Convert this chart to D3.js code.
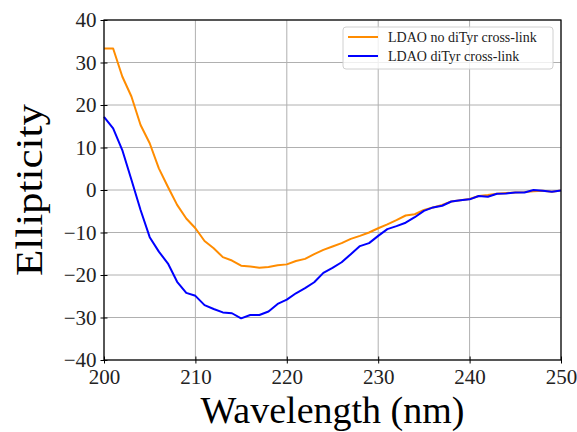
<!DOCTYPE html>
<html>
<head>
<meta charset="utf-8">
<script src="https://cdn.jsdelivr.net/npm/d3@7"></script>
<style>
  html, body { margin: 0; padding: 0; background: #fff; }
  svg { display: block; }
  svg text { font-family: "Liberation Serif", "DejaVu Serif", serif; }
</style>
</head>
<body>
<svg id="chart" width="577" height="432"></svg>
<script>
// CD spectra: wavelength (nm) vs ellipticity
const wavelengths = d3.range(200, 251);
const noCrossLink = [
  33.3, 33.3, 26.7, 22.0, 15.3, 11.0, 5.1, 0.7, -3.5, -6.7,
  -9.0, -12.0, -13.7, -15.8, -16.6, -17.8, -18.0, -18.3, -18.1, -17.7,
  -17.5, -16.7, -16.2, -15.1, -14.1, -13.3, -12.5, -11.5, -10.8, -10.0,
  -9.0, -8.1, -7.1, -6.0, -5.7, -4.7, -4.1, -3.5, -2.7, -2.4,
  -2.1, -1.4, -1.2, -0.9, -0.7, -0.6, -0.5, -0.3, -0.2, -0.4,
  -0.1
];
const diTyrCrossLink = [
  17.2, 14.5, 9.4, 2.4, -4.7, -11.1, -14.5, -17.3, -21.6, -24.2,
  -24.9, -27.1, -28.0, -28.8, -29.0, -30.2, -29.4, -29.4, -28.6, -26.8,
  -25.8, -24.3, -23.1, -21.7, -19.5, -18.3, -17.0, -15.1, -13.2, -12.5,
  -10.8, -9.2, -8.5, -7.7, -6.4, -4.9, -4.1, -3.7, -2.7, -2.4,
  -2.2, -1.4, -1.6, -0.9, -0.8, -0.6, -0.6, 0.0, -0.2, -0.4,
  -0.1
];
const seriesNames = ["LDAO no diTyr cross-link", "LDAO diTyr cross-link"];
const seriesColors = ["#ff8c00", "#0000ff"];
const xTicks = [200, 210, 220, 230, 240, 250];
const yTicks = [-40, -30, -20, -10, 0, 10, 20, 30, 40];

const font = '"Liberation Serif", "DejaVu Serif", serif';
const margin = { left: 104, right: 16, top: 20, bottom: 72 };
const W = 577, H = 432;
const iw = W - margin.left - margin.right;
const ih = H - margin.top - margin.bottom;

const svg = d3.select("#chart");
const g = svg.append("g").attr("transform", `translate(${margin.left},${margin.top})`);

const x = d3.scaleLinear().domain([200, 250]).range([0, iw]);
const y = d3.scaleLinear().domain([-40, 40]).range([ih, 0]);

// grid
g.append("g").selectAll("line").data(xTicks).join("line")
  .attr("x1", d => x(d)).attr("x2", d => x(d))
  .attr("y1", 0).attr("y2", ih)
  .attr("stroke", "#b0b0b0").attr("stroke-width", 1);
g.append("g").selectAll("line").data(yTicks).join("line")
  .attr("x1", 0).attr("x2", iw)
  .attr("y1", d => y(d)).attr("y2", d => y(d))
  .attr("stroke", "#b0b0b0").attr("stroke-width", 1);

// series
const line = d3.line().x((d, i) => x(wavelengths[i])).y(d => y(d));
[noCrossLink, diTyrCrossLink].forEach((vals, k) => {
  g.append("path").datum(vals)
    .attr("d", line)
    .attr("fill", "none")
    .attr("stroke", seriesColors[k])
    .attr("stroke-width", 2)
    .attr("stroke-linejoin", "round");
});

// axes
const fmt = d3.format("d");
const xAxis = g.append("g").attr("transform", `translate(0,${ih})`)
  .call(d3.axisBottom(x).tickValues(xTicks).tickFormat(fmt).tickSizeInner(3.5).tickSizeOuter(0).tickPadding(4));
const yAxis = g.append("g")
  .call(d3.axisLeft(y).tickValues(yTicks).tickFormat(fmt).tickSizeInner(3.5).tickSizeOuter(0).tickPadding(4));
[xAxis, yAxis].forEach(a => {
  a.attr("font-family", null).attr("font-size", null);
  a.select(".domain").remove();
  a.selectAll(".tick line").attr("stroke", "#000").attr("stroke-width", 1);
  a.selectAll("text").style("font-family", font).style("font-size", "21px").attr("fill", "#222");
});
// inward part of the ticks
xAxis.selectAll(".tick").append("line").attr("y1", 0).attr("y2", -3.5).attr("stroke", "#000");
yAxis.selectAll(".tick").append("line").attr("x1", 0).attr("x2", 3.5).attr("stroke", "#000");
xAxis.selectAll("text").attr("dy", "0.78em");

// frame
g.append("rect").attr("x", 0).attr("y", 0).attr("width", iw).attr("height", ih)
  .attr("fill", "none").attr("stroke", "#000").attr("stroke-width", 1.2);

// axis titles
svg.append("text")
  .attr("x", margin.left + iw / 2).attr("y", 423)
  .attr("text-anchor", "middle")
  .style("font-family", font).style("font-size", "37px")
  .attr("textLength", 264).attr("lengthAdjust", "spacingAndGlyphs")
  .text("Wavelength (nm)");
svg.append("text")
  .attr("transform", `translate(42,${margin.top + ih / 2}) rotate(-90)`)
  .attr("text-anchor", "middle")
  .style("font-family", font).style("font-size", "37px")
  .attr("textLength", 172).attr("lengthAdjust", "spacingAndGlyphs")
  .text("Ellipticity");

// legend
const lg = svg.append("g").attr("transform", "translate(343,27)");
lg.append("rect").attr("width", 210).attr("height", 42).attr("rx", 3)
  .attr("fill", "#fff").attr("fill-opacity", 0.8)
  .attr("stroke", "#d0d0d0").attr("stroke-width", 1);
seriesNames.forEach((name, k) => {
  const yy = 10 + k * 19;
  lg.append("line").attr("x1", 5).attr("x2", 35).attr("y1", yy).attr("y2", yy)
    .attr("stroke", seriesColors[k]).attr("stroke-width", 2);
  lg.append("text").attr("x", 45).attr("y", yy).attr("dy", "0.35em")
    .style("font-family", font).style("font-size", "14px").attr("fill", "#222")
    .text(name);
});
</script>
</body>
</html>
